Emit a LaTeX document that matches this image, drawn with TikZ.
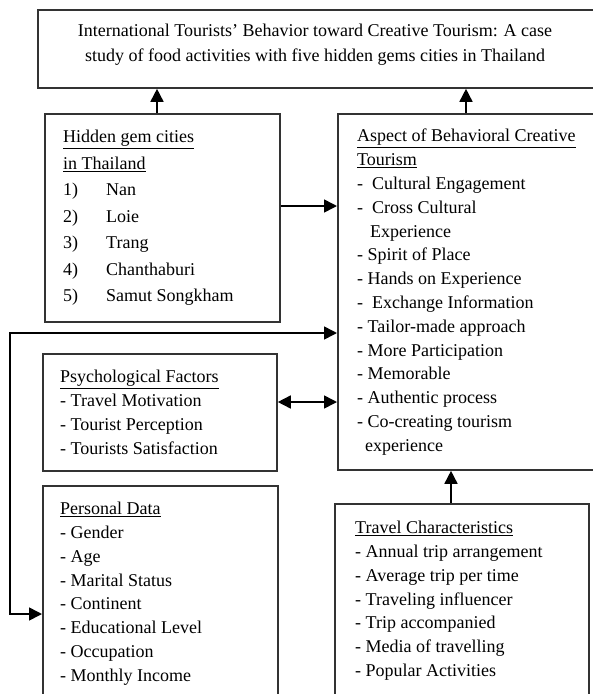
\documentclass[tikz,border=0pt]{standalone}
\usepackage{fontspec}
\setmainfont{Liberation Serif}
\usepackage{tikz}
\usetikzlibrary{arrows.meta}
\tikzset{
  box/.style={draw=black!80, line width=1.8pt, anchor=north west, inner sep=0pt},
  txt/.style={anchor=north west, inner sep=0pt, align=left, font=\fontsize{18}{23.8}\selectfont},
  arr/.style={line width=1.6pt, -{Triangle[length=13pt,width=13pt]}},
  dblarr/.style={line width=1.6pt, {Triangle[length=13pt,width=13pt]}-{Triangle[length=13pt,width=13pt]}}
}
\newcommand{\itm}[1]{\makebox[43pt][l]{#1}}

\begin{document}
\begin{tikzpicture}[x=1pt,y=-1pt]

      \useasboundingbox (0,0) rectangle (593,694);
      \clip (0,0) rectangle (593,694);

      % boxes
      \node[box, minimum width=560pt, minimum height=78pt] (title) at (37,9) {};
      \node[box, minimum width=235pt, minimum height=208pt] (hidden) at (44,113) {};
      \node[box, minimum width=260pt, minimum height=356pt] (aspect) at (337,113) {};
      \node[box, minimum width=234pt, minimum height=117pt] (psych) at (42,353) {};
      \node[box, minimum width=235pt, minimum height=220pt] (personal) at (42,485) {};
      \node[box, minimum width=254pt, minimum height=200pt] (travel) at (334,503) {};

      % texts
      \node[txt, anchor=center, align=center, font=\fontsize{18}{25}\selectfont] (titletext) at (315,45) {International Tourists' Behavior toward Creative Tourism: A case\\study of food activities with five hidden gems cities in Thailand};
      \node[txt, font=\fontsize{18}{26.5}\selectfont] (hiddentext) at (63,130) {\underline{Hidden gem cities}\\\underline{in Thailand}\\\itm{1)}Nan\\\itm{2)}Loie\\\itm{3)}Trang\\\itm{4)}Chanthaburi\\\itm{5)}Samut Songkham};
      \node[txt] (aspecttext) at (357,129) {\underline{Aspect of Behavioral Creative}\\\underline{Tourism}\\-\ \ Cultural Engagement\\-\ \ Cross Cultural\\\hspace*{13pt}Experience\\- Spirit of Place\\- Hands on Experience\\-\ \ Exchange Information\\- Tailor-made approach\\- More Participation\\- Memorable\\- Authentic process\\- Co-creating tourism\\\hspace*{8pt}experience};
      \node[txt] (psychtext) at (60,370) {\underline{Psychological Factors}\\- Travel Motivation\\- Tourist Perception\\- Tourists Satisfaction};
      \node[txt] (personaltext) at (60,502) {\underline{Personal Data}\\- Gender\\- Age\\- Marital Status\\- Continent\\- Educational Level\\- Occupation\\- Monthly Income};
      \node[txt] (traveltext) at (355,521) {\underline{Travel Characteristics}\\- Annual trip arrangement\\- Average trip per time\\- Traveling influencer\\- Trip accompanied\\- Media of travelling\\- Popular Activities};

      % connectors
      \coordinate (looptop) at (10,333);
      \coordinate (loopbot) at (10,614);
      \draw[arr] (hidden.north -| 157,0) -- (title.south -| 157,0);
      \draw[arr] (aspect.north -| 466,0) -- (title.south -| 466,0);
      \draw[arr] (hidden.east |- 0,206) -- (aspect.west |- 0,206);
      \draw[dblarr] (psych.east |- 0,402) -- (aspect.west |- 0,402);
      \draw[arr] (travel.north -| 451,0) -- (aspect.south -| 451,0);
      \draw[dblarr] (aspect.west |- looptop) -- (looptop) -- (loopbot) -- (personal.west |- loopbot);

\end{tikzpicture}
\end{document}
